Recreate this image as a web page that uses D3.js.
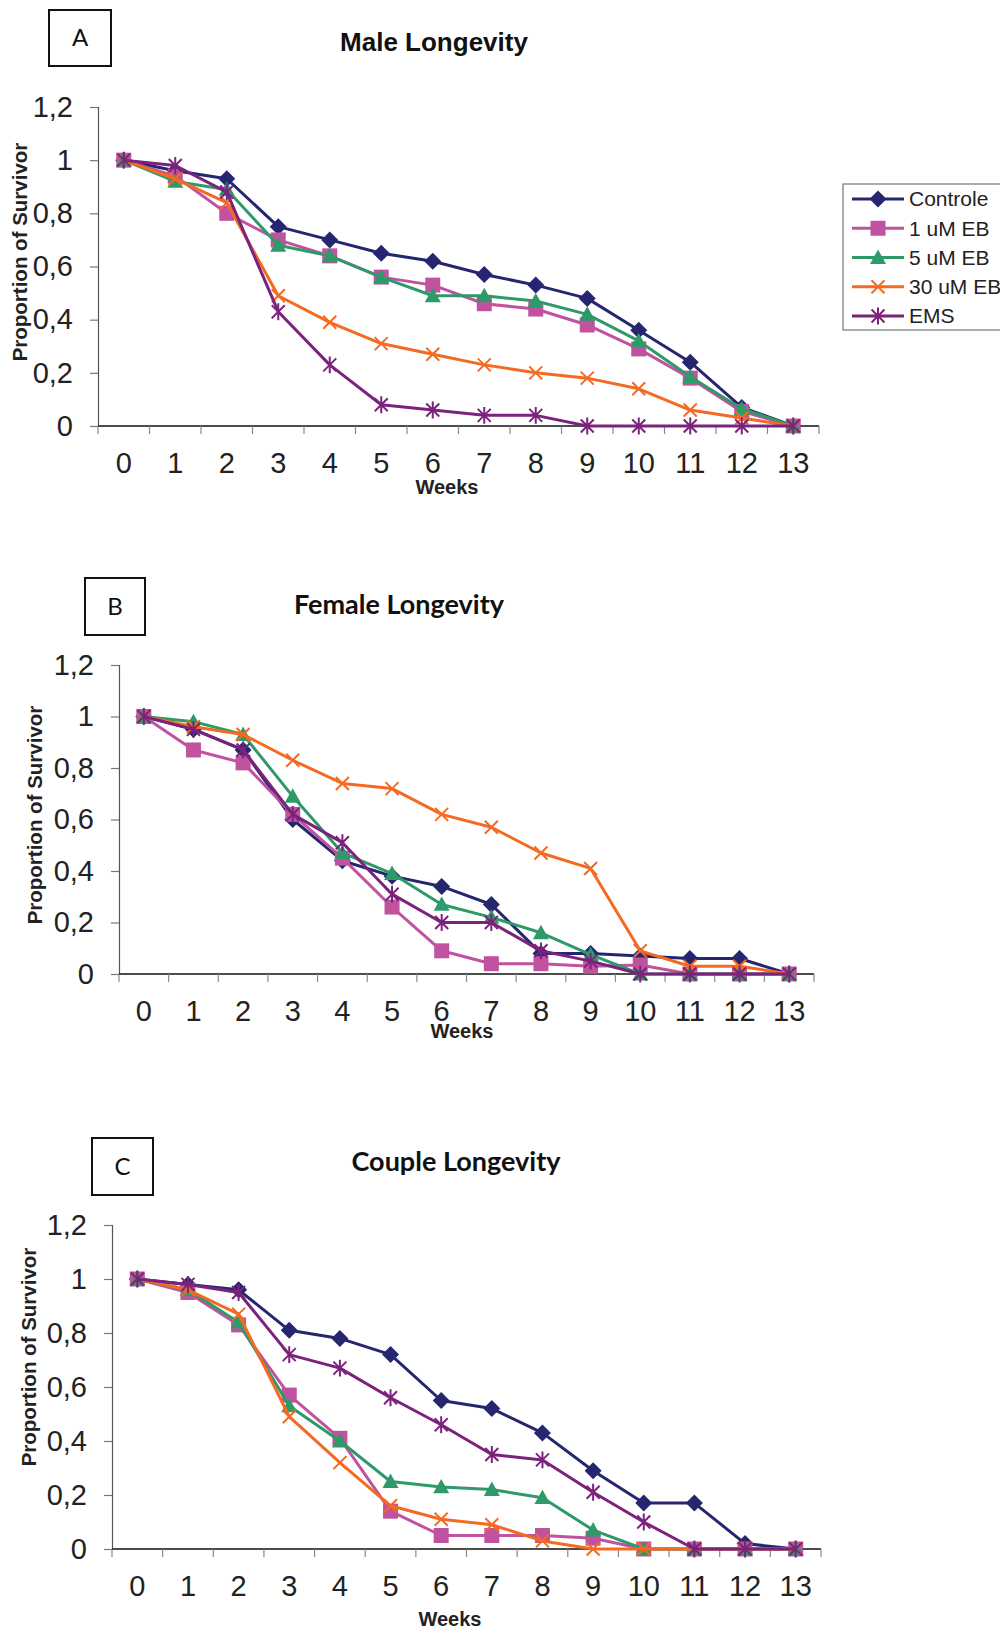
<!DOCTYPE html>
<html>
<head>
<meta charset="utf-8">
<script src="https://cdn.jsdelivr.net/npm/d3@7"></script>
<style>
  html, body { margin: 0; padding: 0; background: #fff; }
  svg { display: block; }
</style>
</head>
<body>
<svg id="chart" width="1000" height="1629"></svg>
<script>
// ---------- DATA ----------
const weeks = ["0","1","2","3","4","5","6","7","8","9","10","11","12","13"];
const seriesNames = ["Controle", "1 uM EB", "5 uM EB", "30 uM EB", "EMS"];
const yTickValues = [0, 0.2, 0.4, 0.6, 0.8, 1, 1.2];
const panelLetters = ["A", "B", "C"];
const panelTitles = ["Male Longevity", "Female Longevity", "Couple Longevity"];

// Male
const maleControle = [1, 0.96, 0.93, 0.75, 0.70, 0.65, 0.62, 0.57, 0.53, 0.48, 0.36, 0.24, 0.07, 0];
const male1uM      = [1, 0.94, 0.80, 0.70, 0.64, 0.56, 0.53, 0.46, 0.44, 0.38, 0.29, 0.18, 0.055, 0];
const male5uM      = [1, 0.92, 0.89, 0.68, 0.64, 0.56, 0.49, 0.49, 0.47, 0.42, 0.32, 0.185, 0.065, 0];
const male30uM     = [1, 0.93, 0.84, 0.49, 0.39, 0.31, 0.27, 0.23, 0.20, 0.18, 0.14, 0.06, 0.03, 0];
const maleEMS      = [1, 0.98, 0.88, 0.43, 0.23, 0.08, 0.06, 0.04, 0.04, 0, 0, 0, 0, 0];

// Female
const femaleControle = [1, 0.95, 0.87, 0.60, 0.44, 0.38, 0.34, 0.27, 0.08, 0.08, 0.07, 0.06, 0.06, 0];
const female1uM      = [1, 0.87, 0.82, 0.62, 0.45, 0.26, 0.09, 0.04, 0.04, 0.03, 0.035, 0, 0, 0];
const female5uM      = [1, 0.98, 0.93, 0.69, 0.47, 0.39, 0.27, 0.22, 0.16, 0.075, 0, 0, 0, 0];
const female30uM     = [1, 0.96, 0.93, 0.83, 0.74, 0.72, 0.62, 0.57, 0.47, 0.41, 0.09, 0.03, 0.03, 0];
const femaleEMS      = [1, 0.95, 0.87, 0.62, 0.51, 0.31, 0.20, 0.20, 0.09, 0.05, 0, 0, 0, 0];

// Couple
const coupleControle = [1, 0.98, 0.96, 0.81, 0.78, 0.72, 0.55, 0.52, 0.43, 0.29, 0.17, 0.17, 0.02, 0];
const couple1uM      = [1, 0.95, 0.83, 0.57, 0.41, 0.14, 0.05, 0.05, 0.05, 0.04, 0, 0, 0, 0];
const couple5uM      = [1, 0.96, 0.84, 0.53, 0.40, 0.25, 0.23, 0.22, 0.19, 0.07, 0, 0, 0, 0];
const couple30uM     = [1, 0.96, 0.87, 0.49, 0.32, 0.16, 0.11, 0.09, 0.03, 0, 0, 0, 0, 0];
const coupleEMS      = [1, 0.98, 0.95, 0.72, 0.67, 0.56, 0.46, 0.35, 0.33, 0.21, 0.10, 0, 0, 0];

// ---------- STYLE ----------
const colors = ["#25266f", "#c052a0", "#2e9a6a", "#f46a22", "#7b237c"];
const markers = ["diamond", "square", "triangle", "x", "asterisk"];

const panelSeries = [
  [maleControle, male1uM, male5uM, male30uM, maleEMS],
  [femaleControle, female1uM, female5uM, female30uM, femaleEMS],
  [coupleControle, couple1uM, couple5uM, couple30uM, coupleEMS]
];

// layout per panel
const layouts = [
  { axisX: 98,  yTop: 107,  y0: 426,  xRight: 819, title: [434, 51],  titleFont: "'Liberation Sans', Arial, sans-serif", titleSize: 26, box: [49, 10, 62, 56],  ylab: [20, 252],  weeks: [447, 494] },
  { axisX: 119, yTop: 665,  y0: 974,  xRight: 814, title: [399, 614], titleFont: "Lato, 'Open Sans', sans-serif", titleSize: 27, box: [85, 578, 60, 57], ylab: [35, 815],  weeks: [462, 1038] },
  { axisX: 112, yTop: 1225, y0: 1549, xRight: 821, title: [456, 1171], titleFont: "Lato, 'Open Sans', sans-serif", titleSize: 27, box: [92, 1138, 61, 57], ylab: [29, 1357], weeks: [450, 1626] }
];

const svg = d3.select("#chart");

function markerPath(type, s) {
  switch (type) {
    case "diamond": return `M0,${-s}L${s},0L0,${s}L${-s},0Z`;
    case "square": return `M${-s},${-s}H${s}V${s}H${-s}Z`;
    case "triangle": return `M0,${-s}L${s},${s*0.8}L${-s},${s*0.8}Z`;
    case "x": return `M${-s},${-s}L${s},${s}M${-s},${s}L${s},${-s}`;
    case "asterisk": return `M${-s},${-s}L${s},${s}M${-s},${s}L${s},${-s}M0,${-s*1.3}L0,${s*1.3}`;
  }
}
function drawMarker(g, type, color, x, y) {
  const filled = ["diamond", "square", "triangle"].includes(type);
  const sizes = { diamond: 8.5, square: 7.5, triangle: 8, x: 6.5, asterisk: 6.5 };
  g.append("path")
    .attr("transform", `translate(${x},${y})`)
    .attr("d", markerPath(type, sizes[type]))
    .attr("fill", filled ? color : "none")
    .attr("stroke", filled ? "none" : color)
    .attr("stroke-width", filled ? 0 : 2);
}

const fmtY = d => d3.format(".1~f")(d).replace(".", ",");
const axisFont = "'Liberation Sans', Arial, sans-serif";

layouts.forEach((L, p) => {
  const g = svg.append("g");
  const x = d3.scaleBand().domain(weeks).range([L.axisX, L.xRight]).padding(0);
  const y = d3.scaleLinear().domain([0, 1.2]).range([L.y0, L.yTop]);

  // letter box
  g.append("rect").attr("x", L.box[0]).attr("y", L.box[1]).attr("width", L.box[2]).attr("height", L.box[3])
    .attr("fill", "none").attr("stroke", "#111").attr("stroke-width", 2);
  g.append("text").attr("x", L.box[0] + L.box[2] / 2).attr("y", L.box[1] + L.box[3] / 2 + 8)
    .attr("text-anchor", "middle").attr("font-family", "Lato, 'Open Sans', sans-serif")
    .attr("font-size", 24).attr("fill", "#111").text(panelLetters[p]);

  // title
  g.append("text").attr("x", L.title[0]).attr("y", L.title[1]).attr("text-anchor", "middle")
    .attr("font-family", L.titleFont).attr("font-weight", "bold")
    .attr("font-size", L.titleSize).attr("fill", "#111").text(panelTitles[p]);

  // y axis
  const yAxis = g.append("g").attr("transform", `translate(${L.axisX},0)`)
    .call(d3.axisLeft(y).tickValues(yTickValues).tickFormat(fmtY).tickSize(8).tickPadding(17));
  yAxis.select(".domain").attr("stroke", "#555").attr("stroke-width", 1.2);
  yAxis.selectAll(".tick line").attr("stroke", "#777").attr("stroke-width", 1.2);
  yAxis.selectAll(".tick text").attr("font-family", axisFont)
    .attr("font-size", 29).attr("fill", "#222");

  // x axis labels
  const xAxis = g.append("g").attr("transform", `translate(0,${L.y0})`)
    .call(d3.axisBottom(x).tickSize(0).tickPadding(26));
  xAxis.select(".domain").remove();
  xAxis.selectAll(".tick text").attr("font-family", axisFont)
    .attr("font-size", 29).attr("fill", "#222");
  // x axis baseline and boundary ticks
  g.append("line").attr("x1", L.axisX).attr("x2", L.xRight).attr("y1", y(0)).attr("y2", y(0))
    .attr("stroke", "#111").attr("stroke-width", 1.5);
  const bounds = weeks.map(w => x(w)).concat([x(weeks[weeks.length - 1]) + x.bandwidth()]);
  g.selectAll(".xt").data(bounds).enter().append("line")
    .attr("x1", d => d).attr("x2", d => d).attr("y1", y(0)).attr("y2", y(0) + 8)
    .attr("stroke", "#888").attr("stroke-width", 1.2);

  // axis titles
  g.append("text").attr("x", L.weeks[0]).attr("y", L.weeks[1]).attr("text-anchor", "middle")
    .attr("font-family", axisFont).attr("font-weight", "bold")
    .attr("font-size", 20).attr("fill", "#222").text("Weeks");
  g.append("text").attr("transform", `translate(${L.ylab[0]},${L.ylab[1]}) rotate(-90)`)
    .attr("text-anchor", "middle").attr("dy", "0.35em")
    .attr("font-family", axisFont).attr("font-weight", "bold")
    .attr("font-size", 20.5).attr("fill", "#222").text("Proportion of Survivor");

  // series
  const line = d3.line().x((d, i) => x(weeks[i]) + x.bandwidth() / 2).y(d => y(d));
  panelSeries[p].forEach((vals, s) => {
    const sg = g.append("g");
    sg.append("path").datum(vals).attr("d", line).attr("fill", "none")
      .attr("stroke", colors[s]).attr("stroke-width", 3).attr("stroke-linejoin", "round");
    vals.forEach((v, i) => drawMarker(sg, markers[s], colors[s], x(weeks[i]) + x.bandwidth() / 2, y(v)));
  });
});

// legend (panel A only)
const lg = svg.append("g");
lg.append("rect").attr("x", 843).attr("y", 184).attr("width", 170).attr("height", 146)
  .attr("fill", "#fff").attr("stroke", "#777").attr("stroke-width", 1.2);
seriesNames.forEach((name, i) => {
  const yy = 199 + i * 29.25;
  lg.append("line").attr("x1", 852).attr("x2", 904).attr("y1", yy).attr("y2", yy)
    .attr("stroke", colors[i]).attr("stroke-width", 3);
  drawMarker(lg, markers[i], colors[i], 878, yy);
  lg.append("text").attr("x", 909).attr("y", yy).attr("dy", "0.35em")
    .attr("font-family", axisFont).attr("font-size", 21)
    .attr("fill", "#222").text(name);
});
</script>
</body>
</html>
